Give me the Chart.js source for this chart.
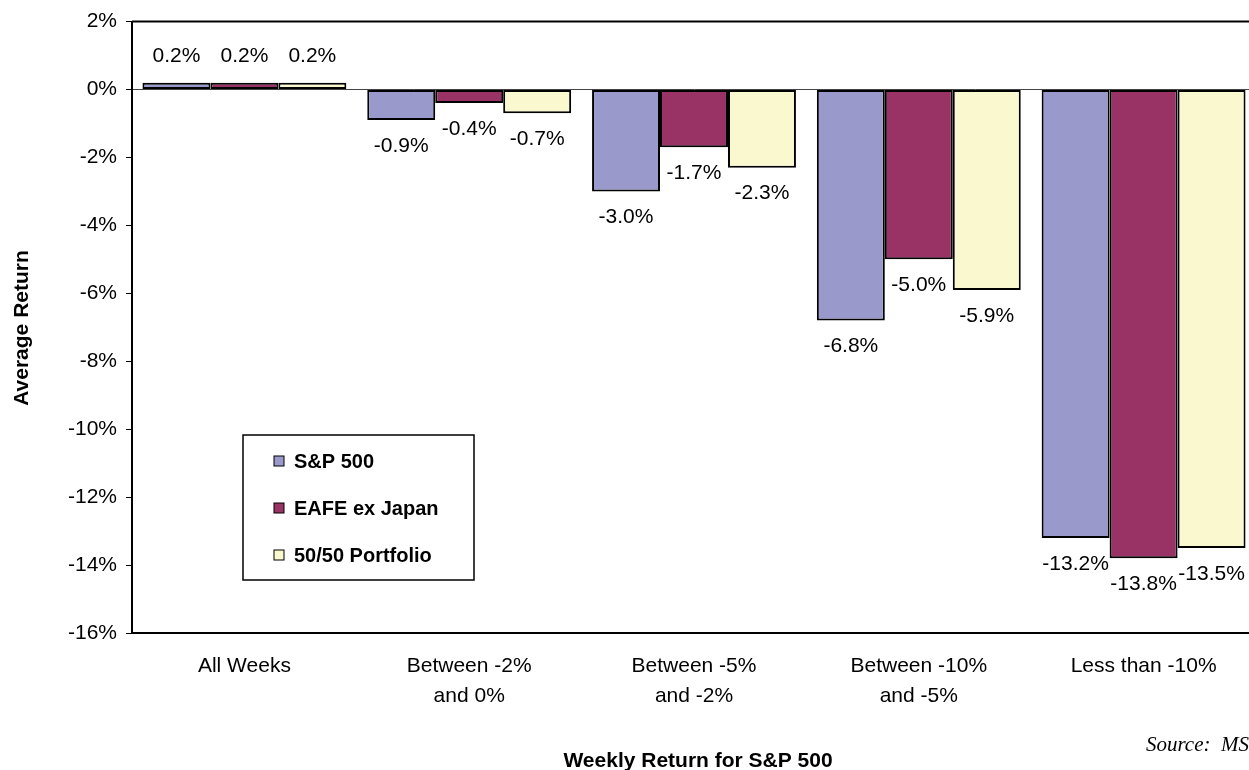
<!DOCTYPE html>
<html>
<head>
<meta charset="utf-8">
<script src="https://cdn.jsdelivr.net/npm/chart.js@4"></script>
<style>
  html, body { margin: 0; padding: 0; background: #fff; overflow: hidden; }
  #wrap { width: 1258px; height: 770px; }
</style>
</head>
<body>
<div id="wrap"><canvas id="chart" width="1258" height="770"></canvas></div>
<script>
const categories = [
  "All Weeks",
  ["Between -2%", "and 0%"],
  ["Between -5%", "and -2%"],
  ["Between -10%", "and -5%"],
  "Less than -10%"
];
const seriesNames = ["S&P 500", "EAFE ex Japan", "50/50 Portfolio"];
const sp500 = [0.2, -0.9, -3.0, -6.8, -13.2];
const eafeExJapan = [0.2, -0.4, -1.7, -5.0, -13.8];
const portfolio5050 = [0.2, -0.7, -2.3, -5.9, -13.5];
const yTicks = [2, 0, -2, -4, -6, -8, -10, -12, -14, -16];

const colors = ["#9999CC", "#993366", "#FAF8CF"];
const FONT = "'Liberation Sans', Arial, sans-serif";

const extras = {
  id: "extras",
  afterDatasetsDraw(chart) {
    const ctx = chart.ctx;
    const area = chart.chartArea;
    ctx.save();
    // value labels
    ctx.font = "21px " + FONT;
    ctx.fillStyle = "#000";
    ctx.textAlign = "center";
    ctx.textBaseline = "middle";
    chart.data.datasets.forEach((ds, i) => {
      chart.getDatasetMeta(i).data.forEach((bar, j) => {
        const v = ds.data[j];
        const y = v >= 0 ? bar.y - 27 : bar.y + 26;
        ctx.fillText(v.toFixed(1) + "%", bar.x, y);
      });
    });
    // top frame
    ctx.strokeStyle = "#000";
    ctx.lineWidth = 2;
    ctx.beginPath();
    ctx.moveTo(area.left, area.top);
    ctx.lineTo(chart.width, area.top);
    ctx.stroke();
    // legend box
    const lx = 243, ly = 435, lw = 231, lh = 145;
    ctx.fillStyle = "#fff";
    ctx.fillRect(lx, ly, lw, lh);
    ctx.lineWidth = 1.5;
    ctx.strokeRect(lx, ly, lw, lh);
    ctx.font = "bold 20px " + FONT;
    ctx.textAlign = "left";
    const rows = [461, 508, 555];
    chart.data.datasets.forEach((ds, i) => {
      ctx.fillStyle = ds.backgroundColor;
      ctx.fillRect(274, rows[i] - 5, 10, 10);
      ctx.lineWidth = 1;
      ctx.strokeStyle = "#000";
      ctx.strokeRect(274, rows[i] - 5, 10, 10);
      ctx.fillStyle = "#000";
      ctx.fillText(ds.label, 294, rows[i] + 1);
    });
    // axis titles
    ctx.font = "bold 21px " + FONT;
    ctx.textAlign = "center";
    ctx.textBaseline = "alphabetic";
    ctx.fillText("Weekly Return for S&P 500", 698, 767);
    ctx.save();
    ctx.translate(28, 328);
    ctx.rotate(-Math.PI / 2);
    ctx.fillText("Average Return", 0, 0);
    ctx.restore();
    // source
    ctx.font = "italic 21px 'Liberation Serif', 'Times New Roman', serif";
    ctx.textAlign = "right";
    ctx.fillText("Source:  MS", 1249, 751);
    ctx.restore();
  }
};

const barStyle = { borderColor: "#000", borderWidth: 2, borderSkipped: false, barPercentage: 1.0, categoryPercentage: 0.907 };

new Chart(document.getElementById("chart"), {
  type: "bar",
  data: {
    labels: categories,
    datasets: [
      { label: seriesNames[0], data: sp500, backgroundColor: colors[0], ...barStyle },
      { label: seriesNames[1], data: eafeExJapan, backgroundColor: colors[1], ...barStyle },
      { label: seriesNames[2], data: portfolio5050, backgroundColor: colors[2], ...barStyle }
    ]
  },
  options: {
    responsive: false,
    animation: false,
    layout: { padding: { top: 19, right: 2, left: 0, bottom: 0 } },
    plugins: { legend: { display: false }, tooltip: { enabled: false } },
    scales: {
      x: {
        grid: { display: false },
        border: { color: "#000", width: 2 },
        ticks: { color: "#000", font: { family: FONT, size: 21, lineHeight: "30px" }, padding: 10, maxRotation: 0, autoSkip: false },
        afterFit(s) { s.height = 137; }
      },
      y: {
        min: -16,
        max: 2,
        afterBuildTicks(s) { s.ticks = yTicks.map(v => ({ value: v })); },
        grid: {
          drawOnChartArea: true,
          color: c => (c.tick && c.tick.value === 0 ? "#444" : "transparent"),
          tickColor: "#000",
          tickLength: 6,
          lineWidth: 1
        },
        border: { color: "#000", width: 2 },
        ticks: { color: "#000", font: { family: FONT, size: 21 }, padding: 9, callback: v => v + "%" },
        afterFit(s) { s.width = 132; }
      }
    }
  },
  plugins: [extras]
});
</script>
</body>
</html>
